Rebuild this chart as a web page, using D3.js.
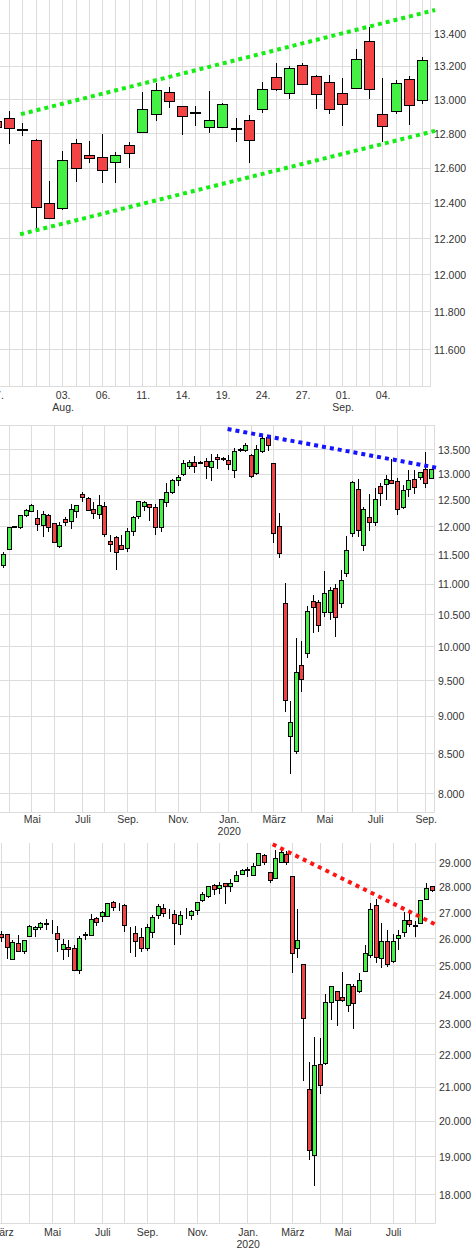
<!DOCTYPE html>
<html><head><meta charset="utf-8">
<script src="https://cdn.jsdelivr.net/npm/d3@7/dist/d3.min.js"></script>
<style>
html,body{margin:0;padding:0;background:#fff}
svg{display:block}
.lbl{font-family:"Liberation Sans",Arial,Helvetica,sans-serif;font-size:10.5px;fill:#333}
</style></head><body>
<svg id="chart" width="475" height="1250"></svg>
<script>
// ================= DATA =================
// Panel 1: daily candles
const p1Days = ["2020-07-27","2020-07-28","2020-07-29","2020-07-30","2020-07-31",
  "2020-08-03","2020-08-04","2020-08-05","2020-08-06","2020-08-07",
  "2020-08-10","2020-08-11","2020-08-12","2020-08-13","2020-08-14",
  "2020-08-17","2020-08-18","2020-08-19","2020-08-20","2020-08-21",
  "2020-08-24","2020-08-25","2020-08-26","2020-08-27","2020-08-28",
  "2020-08-31","2020-09-01","2020-09-02","2020-09-03","2020-09-04",
  "2020-09-07","2020-09-08","2020-09-09"];
const p1Open  = [12870,12886,12822,12761,12399,12371,12744,12670,12663,12634,12728,12808,12914,13044,12958,12925,12837,12835,12830,12878,12943,13133,13038,13206,13139,13104,13038,13068,13351,12914,12931,13122,12992];
const p1High  = [12890,12933,12862,12769,12527,12699,12769,12757,12800,12692,12751,13046,13101,13074,12964,12961,13052,12979,12892,12909,13104,13220,13200,13222,13149,13149,13129,13303,13440,13131,13117,13144,13258];
const p1Low   = [12800,12741,12788,12253,12310,12360,12522,12630,12517,12517,12603,12803,12876,12953,12794,12845,12806,12830,12753,12631,12923,13050,13006,13086,12947,12917,12847,13062,13002,12753,12917,12851,12973];
const p1Close = [12838,12831,12820,12377,12315,12645,12599,12655,12588,12674,12686,12943,13056,12990,12902,12920,12878,12973,12825,12761,13062,13062,13188,13092,13032,12943,12973,13242,13058,12843,13098,12967,13236];
const p1YTicks = [11600,11800,12000,12200,12400,12600,12800,13000,13200,13400];
const p1XTickDays  = ["2020-07-27","2020-08-03","2020-08-06","2020-08-11","2020-08-14","2020-08-19","2020-08-24","2020-08-27","2020-09-01","2020-09-04"];
const p1XTickLine1 = ["27.","03.","06.","11.","14.","19.","24.","27.","01.","04."];
const p1XTickLine2 = ["","Aug.","","","","","","","Sep.",""];
const p1TrendUpperIdx = [1.88, 32.93], p1TrendUpperVal = [12914, 13543];
const p1TrendLowerIdx = [1.80, 32.93], p1TrendLowerVal = [12225, 12816];

// Panel 2: weekly candles, first week 2019-03-25, last week 2020-09-07
const p2FirstWeek = "2019-03-25", p2LastWeek = "2020-09-07";
const p2Open  = [11313,11599,11985,11985,12208,12280,12158,12022,12213,12066,11645,12126,12103,12287,12609,12532,12325,12232,12381,11740,11799,11669,11616,11920,12194,12381,12419,12362,11985,12450,12647,12879,12997,13156,13236,13220,13256,13136,13337,13300,13277,13077,13480,13480,13363,13017,13459,13740,13216,12004,10686,8727,8531,9720,9895,10712,10696,10535,10542,10920,10675,11184,11884,12705,11657,12176,12085,12763,12794,12880,12846,12362,12705,12899,12930,13096,12911];
const p2High  = [11551,12004,12020,12225,12336,12419,12312,12291,12232,12077,12089,12181,12425,12406,12647,12551,12462,12590,12462,11848,11834,11848,11974,12194,12481,12481,12430,12425,12525,12821,12899,12990,13277,13289,13364,13260,13323,13398,13404,13350,13390,13527,13530,13636,13398,13588,13782,13782,13230,12250,11015,9204,10134,10092,10637,10821,10740,11223,10944,10998,11235,11838,12868,12899,12374,12620,12724,12826,12978,13297,12924,12787,13082,13082,13049,13451,13102];
const p2Low   = [11279,11589,11975,11967,12176,12269,11925,11823,11907,11705,11612,12016,11967,12170,12462,12287,12149,12149,11823,11551,11245,11576,11551,11841,12149,12287,12113,11859,11912,12362,12620,12774,12960,13109,13029,13200,12911,12867,13109,13262,13082,12924,13440,13439,12930,12982,13418,13471,11705,11441,9051,8247,8492,9330,9831,10219,10230,10468,10418,10149,10605,11117,11823,11814,11574,11931,12016,12392,12500,12800,12219,12336,12565,12620,12880,12738,12899];
const p2Close = [11511,11993,12010,12213,12306,12400,12048,12232,11993,11723,12029,12085,12325,12387,12551,12306,12243,12400,11866,11689,11546,11599,11920,12176,12462,12456,12355,11985,12500,12634,12879,12938,13216,13222,13147,13232,13156,13256,13297,13306,13188,13459,13495,13568,12950,13500,13727,13568,11884,11529,9223,8920,9623,9522,10551,10621,10335,10849,10899,10461,11066,11574,12840,11938,12325,12085,12513,12620,12899,12810,12312,12672,12879,12743,13029,12821,13082];
const p2YTicks = [8000,8500,9000,9500,10000,10500,11000,11500,12000,12500,13000,13500];
const p2XTickMonths = ["2019-05","2019-07","2019-09","2019-11","2020-01","2020-03","2020-05","2020-07","2020-09"];
const p2XTickLine1 = ["Mai","Juli","Sep.","Nov.","Jan.","März","Mai","Juli","Sep."];
const p2XTickLine2 = ["","","","","2020","","","",""];
const p2TrendIdx = [39.79, 76.9], p2TrendVal = [13922, 13128];

// Panel 3: weekly candles, first week 2019-02-25, last week 2020-08-17
const p3FirstWeek = "2019-02-25", p3LastWeek = "2020-08-17";
const p3Open  = [26173,26163,25238,25826,25530,26072,26351,26412,26540,26570,26200,25604,25678,25641,24842,26120,26125,26756,26848,26848,27395,27230,27249,26310,26200,26034,25626,26237,26887,27159,26880,26899,26526,26790,26872,27064,27446,27604,28044,27952,28153,28016,28234,28532,28690,28479,28892,29310,28574,28356,29000,29323,28438,25615,25032,20935,19028,21701,21711,23725,24103,23896,23599,24277,24089,24807,25369,27276,25279,25885,25151,26012,26237,26694,26470,26579,27513,28016];
const p3High  = [26275,26190,25935,26136,25950,26500,26484,26617,26744,26705,26488,25993,25935,25762,26099,26250,26937,26807,27064,27370,27435,27360,27323,26438,26476,26412,26541,26899,27311,27311,27132,27105,27054,27159,27080,27407,27790,28030,28125,28194,28170,28316,28656,28737,28834,29000,29408,29353,28590,29535,29650,29493,28450,27132,25050,21783,22580,22527,24010,24290,24120,24782,24370,24355,24735,25762,27379,27537,26603,26313,26185,26326,27027,27054,26667,27490,28178,28044];
const p3Low   = [25874,25260,25200,25518,25420,26063,26072,26326,26326,26173,25494,25227,25322,24800,24721,25935,26100,26484,26641,26830,27054,27064,26260,25479,25333,25504,25530,26012,26752,26830,26752,25774,26136,26733,26717,26899,27395,27566,27684,27723,27339,27815,28220,28495,28400,28460,28875,28904,28178,28340,28988,28904,24735,25279,21196,18911,18224,20785,21690,23129,22940,23740,23386,22831,24060,24790,25300,25115,24914,24973,25120,25567,26065,26427,26050,26560,27490,27815];
const p3Close = [26050,25678,25863,25530,25935,26465,26427,26579,26570,26560,25975,25789,25604,24842,26012,26140,26733,26603,26976,27355,27198,27210,26503,26290,25885,25626,26427,26794,27237,26937,26865,26564,26860,26820,27015,27367,27723,28016,27911,28073,28016,28153,28479,28685,28705,28850,29395,29017,28275,29155,29437,29017,25432,25912,23185,19177,21649,21056,23725,24263,23781,23770,24347,23691,24488,25432,27120,25286,25885,25032,25885,26099,26694,26515,26495,27473,27952,27883];
const p3YTicks = [18000,19000,20000,21000,22000,23000,24000,25000,26000,27000,28000,29000];
const p3XTickMonths = ["2019-03","2019-05","2019-07","2019-09","2019-11","2020-01","2020-03","2020-05","2020-07"];
const p3XTickLine1 = ["März","Mai","Juli","Sep.","Nov.","Jan.","März","Mai","Juli"];
const p3XTickLine2 = ["","","","","","2020","","",""];
const p3TrendIdx = [48.48, 78.1], p3TrendVal = [29778, 26484];

// ================= DRAWING =================
const GRID = "#dcdcdc", RED = "#f24444", GREEN = "#44f044";
const svg = d3.select("#chart");
const fmt = d3.formatLocale({decimal: ",", thousands: ".", grouping: [3], currency: ["", ""]}).format(",.0f");
const snap = v => Math.round(v - 0.5) + 0.5;
const parseDay = d3.timeParse("%Y-%m-%d");
const parseMonth = d3.timeParse("%Y-%m");

function weekIndex(first, date) {
  return d3.timeMonday.count(first, d3.timeMonday.floor(date));
}

function drawPanel(c) {
  const x = d3.scaleLinear().domain(c.xDomain).range([0, c.w]);
  const y = d3.scaleLog().domain(c.yDomain).range([c.bottom, c.top]);
  const g = svg.append("g");

  // grid
  g.append("g").selectAll("line").data(c.vGrid).join("line")
    .attr("x1", d => snap(x(d))).attr("x2", d => snap(x(d)))
    .attr("y1", c.top).attr("y2", c.bottom)
    .attr("stroke", GRID).attr("stroke-width", 1);
  g.append("g").selectAll("line").data(c.hGrid).join("line")
    .attr("x1", 0).attr("x2", c.w)
    .attr("y1", d => snap(y(d))).attr("y2", d => snap(y(d)))
    .attr("stroke", GRID).attr("stroke-width", 1);
  // frame (right + bottom)
  g.append("path")
    .attr("d", `M${snap(c.w)},${c.top}V${snap(c.bottom)}H0`)
    .attr("fill", "none").attr("stroke", GRID);

  // y labels
  const ya = g.append("g").attr("transform", `translate(${c.labelX},0)`)
    .call(d3.axisRight(y).tickValues(c.yTicks).tickFormat(fmt).tickSize(0).tickPadding(0));
  ya.select(".domain").remove();
  ya.attr("font-family", null).attr("font-size", null);
  ya.selectAll("text").attr("class", "lbl").attr("x", 0).attr("dy", "0.36em");

  // x labels
  const xa = g.append("g").attr("transform", `translate(0,${c.bottom})`)
    .call(d3.axisBottom(x).tickValues(c.xTickPos).tickFormat((d, k) => c.xLine1[k]).tickSize(0));
  xa.select(".domain").remove();
  xa.attr("font-family", null).attr("font-size", null);
  xa.selectAll(".tick text").attr("class", "lbl").attr("y", c.xBase).attr("dy", null)
    .each(function(d, k) {
      if (c.xLine2[k]) d3.select(this).append("tspan").attr("x", 0).attr("dy", 12).text(c.xLine2[k]);
    });

  // candles
  const data = c.O.map((o, k) => ({k, o, h: c.H[k], l: c.L[k], cl: c.C[k]}));
  const cg = g.append("g");
  cg.selectAll("line").data(data).join("line")
    .attr("x1", d => snap(x(d.k))).attr("x2", d => snap(x(d.k)))
    .attr("y1", d => Math.round(y(d.h))).attr("y2", d => Math.round(y(d.l)))
    .attr("stroke", "#000").attr("stroke-width", 1);
  cg.selectAll("rect").data(data).join("rect")
    .attr("x", d => snap(x(d.k)) - c.bw / 2)
    .attr("y", d => snap(y(Math.max(d.o, d.cl))))
    .attr("width", c.bw)
    .attr("height", d => Math.max(0, snap(y(Math.min(d.o, d.cl))) - snap(y(Math.max(d.o, d.cl)))))
    .attr("fill", d => d.cl >= d.o ? GREEN : RED)
    .attr("stroke", "#000").attr("stroke-width", 1);

  // trend lines
  c.trends.forEach(t => {
    g.append("line")
      .attr("x1", x(t.idx[0])).attr("y1", y(t.val[0]))
      .attr("x2", x(t.idx[1])).attr("y2", y(t.val[1]))
      .attr("stroke", t.color).attr("stroke-width", 4)
      .attr("stroke-dasharray", t.dash);
  });
}

// ---- Panel 1
const p1Index = new Map(p1Days.map((d, i) => [d, i]));
drawPanel({
  top: 0, bottom: 386, w: 430, labelX: 434, bw: 10,
  xDomain: [0.3, 32.55], yDomain: [11407, 13605],
  vGrid: p1Days.map((d, i) => i),
  hGrid: p1YTicks,
  yTicks: p1YTicks,
  xTickPos: p1XTickDays.map(d => p1Index.get(d)),
  xLine1: p1XTickLine1, xLine2: p1XTickLine2, xBase: 12.5,
  O: p1Open, H: p1High, L: p1Low, C: p1Close,
  trends: [
    {idx: p1TrendUpperIdx, val: p1TrendUpperVal, color: "#14ee14", dash: "4,4"},
    {idx: p1TrendLowerIdx, val: p1TrendLowerVal, color: "#14ee14", dash: "4,4"}
  ]
});

// ---- Panel 2
const p2First = parseDay(p2FirstWeek);
const p2Weeks = d3.timeMonday.range(p2First, d3.timeDay.offset(parseDay(p2LastWeek), 1));
const p2Months = d3.timeMonth.range(new Date(2019, 3, 1), d3.timeDay.offset(parseDay(p2LastWeek), 1));
drawPanel({
  top: 425, bottom: 812, w: 434, labelX: 438, bw: 4,
  xDomain: [-0.65, 76.47], yDomain: [7781, 14007],
  vGrid: p2Months.map(m => weekIndex(p2First, m)),
  hGrid: p2YTicks.concat([14000]),
  yTicks: p2YTicks,
  xTickPos: p2XTickMonths.map(m => weekIndex(p2First, parseMonth(m))),
  xLine1: p2XTickLine1, xLine2: p2XTickLine2, xBase: 11,
  O: p2Open.slice(0, p2Weeks.length), H: p2High, L: p2Low, C: p2Close,
  trends: [{idx: p2TrendIdx, val: p2TrendVal, color: "#1414ff", dash: "4,4"}]
});

// ---- Panel 3
const p3First = parseDay(p3FirstWeek);
const p3Weeks = d3.timeMonday.range(p3First, d3.timeDay.offset(parseDay(p3LastWeek), 1));
const p3Months = d3.timeMonth.range(new Date(2019, 2, 1), d3.timeDay.offset(parseDay(p3LastWeek), 1));
drawPanel({
  top: 843, bottom: 1223, w: 435, labelX: 439, bw: 4,
  xDomain: [-0.304, 77.51], yDomain: [17272, 29833],
  vGrid: p3Months.map(m => weekIndex(p3First, m)),
  hGrid: p3YTicks,
  yTicks: p3YTicks,
  xTickPos: p3XTickMonths.map(m => weekIndex(p3First, parseMonth(m))),
  xLine1: p3XTickLine1, xLine2: p3XTickLine2, xBase: 12.5,
  O: p3Open.slice(0, p3Weeks.length), H: p3High, L: p3Low, C: p3Close,
  trends: [{idx: p3TrendIdx, val: p3TrendVal, color: "#ff1414", dash: "4,4.4"}]
});
</script>
</body></html>
